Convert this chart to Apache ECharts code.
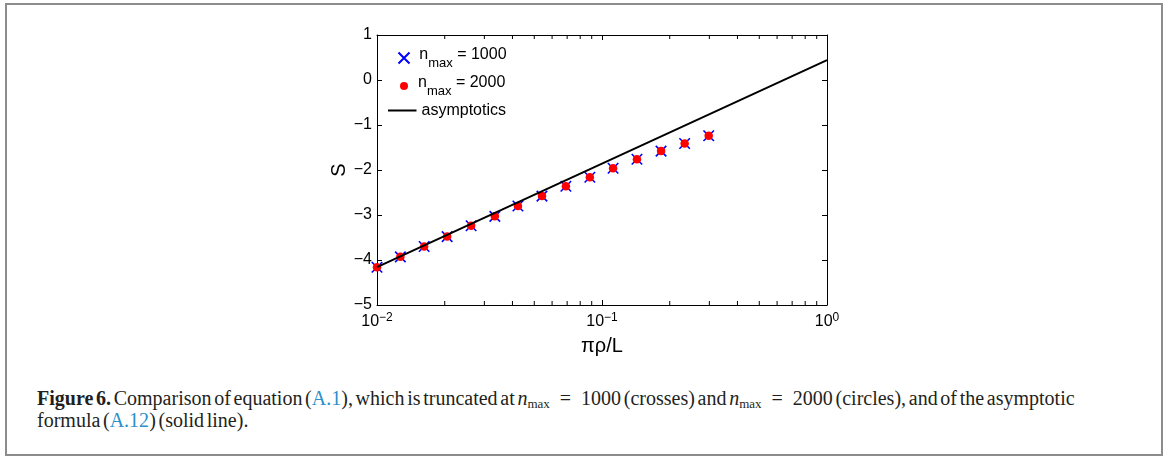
<!DOCTYPE html>
<html>
<head>
<meta charset="utf-8">
<title>Figure 6</title>
<script src="https://cdn.jsdelivr.net/npm/echarts@6.0.0/dist/echarts.min.js"></script>
<style>
  body { margin: 0; background: #fff; }
  #frame { position: absolute; left: 5px; top: 3px; width: 1154px; height: 449px; border: 2px solid #8c8c8c; }
  #chart { position: absolute; left: 0; top: 0; width: 1168px; height: 370px; }
  #caption {
    position: absolute; left: 37px; top: 388px; white-space: nowrap;
    font-family: "Liberation Serif", serif; font-size: 20px; line-height: 21.5px; color: #231f20;
    word-spacing: -2.3px;
  }
  #caption a { color: #2b8fc9; text-decoration: none; }
  #caption sub { font-size: 13px; vertical-align: -3px; line-height: 0; }
</style>
</head>
<body>
<div id="frame"></div>
<div id="chart"></div>
<div id="caption"><b>Figure 6.</b> Comparison of equation (<a>A.1</a>), which is truncated at <i>n</i><sub>max</sub>&ensp;=&ensp;1000 (crosses) and <i>n</i><sub>max</sub>&ensp;=&ensp;2000 (circles), and of the asymptotic<br>formula (<a>A.12</a>) (solid line).</div>
<script>
// values
const rhoX = [0.0100, 0.0127, 0.0162, 0.0205, 0.0262, 0.0334, 0.0423, 0.0541, 0.0691, 0.0883, 0.112, 0.143, 0.183, 0.233, 0.298];
const s1000 = [-4.16, -3.93, -3.70, -3.48, -3.24, -3.03, -2.80, -2.58, -2.36, -2.16, -1.96, -1.76, -1.58, -1.41, -1.24];
const s2000 = [-4.16, -3.93, -3.70, -3.48, -3.24, -3.03, -2.80, -2.58, -2.36, -2.16, -1.96, -1.76, -1.58, -1.41, -1.24];
const asymX = [0.01, 1];
const asymS = [-4.16, 0.44];
const xMinor = [0.02, 0.03, 0.04, 0.05, 0.06, 0.07, 0.08, 0.09, 0.2, 0.3, 0.4, 0.5, 0.6, 0.7, 0.8, 0.9];
const yMin = -5, yMax = 1;

const font = 'Liberation Sans';
const minus = s => String(s).replace('-', '\u2212');

const zip = (a, b) => a.map((v, i) => [v, b[i]]);

const legendRich = {
  n: { fontFamily: font, fontSize: 16, lineHeight: 16, padding: [0, 0, 7, 0], color: '#000' },
  sub: { fontFamily: font, fontSize: 13, lineHeight: 13, padding: [10, 0, 0, 0], color: '#000' }
};
const nmaxLabel = name => '{n|n}{sub|max}{n| = ' + name.split('=')[1].trim() + '}';

const axisCommon = {
  axisLine: { onZero: false, lineStyle: { color: '#000', width: 1 } },
  axisTick: { inside: true, length: 5, lineStyle: { color: '#000' } },
  splitLine: { show: false }
};

const myChart = echarts.init(document.getElementById('chart'));
const option = {
  animation: false,
  grid: { left: 377, top: 35, width: 450, height: 270 },
  legend: [
    {
      data: ['n_max = 1000'], left: 397.5, top: 46.5, padding: 0, orient: 'vertical',
      itemWidth: 20.5, itemHeight: 11, selectedMode: false,
      formatter: nmaxLabel, textStyle: { rich: legendRich }
    },
    {
      data: ['n_max = 2000'], left: 400, top: 74.5, padding: 0, orient: 'vertical',
      itemWidth: 18, itemHeight: 8, selectedMode: false,
      formatter: nmaxLabel, textStyle: { rich: legendRich }
    },
    {
      data: [{ name: 'asymptotics', icon: 'rect' }], left: 388, top: 102.5, padding: 0, orient: 'vertical',
      itemWidth: 28.5, itemHeight: 2, selectedMode: false,
      itemStyle: { color: '#000' },
      textStyle: { fontFamily: font, fontSize: 16, lineHeight: 16, color: '#000' }
    }
  ],
  xAxis: [
    Object.assign({
      type: 'log', logBase: 10, min: 0.01, max: 1, position: 'bottom',
      name: 'πρ/L', nameLocation: 'middle', nameGap: 28,
      nameTextStyle: { fontFamily: font, fontSize: 20, color: '#000' },
      axisLabel: {
        margin: 9,
        formatter: v => '{b|10}{s|' + minus(Math.round(Math.log10(v))) + '}',
        rich: {
          b: { fontFamily: font, fontSize: 16, lineHeight: 16, color: '#000' },
          s: { fontFamily: font, fontSize: 12, lineHeight: 12, padding: [0, 0, 8, 0], color: '#000' }
        }
      }
    }, axisCommon),
    Object.assign({
      type: 'log', logBase: 10, min: 0.01, max: 1, position: 'top',
      axisLabel: { show: false }
    }, axisCommon)
  ],
  yAxis: [
    Object.assign({
      type: 'value', min: yMin, max: yMax, interval: 1, position: 'left',
      name: 'S', nameLocation: 'middle', nameGap: 19,
      nameTextStyle: { fontFamily: font, fontSize: 20, color: '#000' },
      axisLabel: { margin: 5, fontFamily: font, fontSize: 16, color: '#000', formatter: v => minus(v) }
    }, axisCommon),
    Object.assign({
      type: 'value', min: yMin, max: yMax, interval: 1, position: 'right',
      axisLabel: { show: false }
    }, axisCommon)
  ],
  series: [
    {
      name: 'n_max = 1000', type: 'scatter',
      symbol: 'path://M0,0L10,10M10,0L0,10', symbolSize: 10.5,
      itemStyle: { color: '#0000ff', borderColor: '#0000ff', borderWidth: 1.6, opacity: 1 },
      data: zip(rhoX, s1000)
    },
    {
      name: 'n_max = 2000', type: 'scatter',
      symbol: 'circle', symbolSize: 8.5,
      itemStyle: { color: '#ff0000', opacity: 1 },
      data: zip(rhoX, s2000)
    },
    {
      name: 'asymptotics', type: 'line', symbol: 'none',
      lineStyle: { color: '#000', width: 2 }, itemStyle: { color: '#000' },
      data: zip(asymX, asymS)
    },
    {
      // minor log ticks, top and bottom
      type: 'custom', silent: true,
      encode: { x: 0 },
      data: xMinor.map(v => [v]),
      renderItem: function (params, api) {
        const b = api.coord([api.value(0), yMin]);
        const t = api.coord([api.value(0), yMax]);
        const st = { stroke: '#000', lineWidth: 1 };
        return {
          type: 'group',
          children: [
            { type: 'line', shape: { x1: b[0], y1: b[1], x2: b[0], y2: b[1] - 4 }, style: st },
            { type: 'line', shape: { x1: t[0], y1: t[1], x2: t[0], y2: t[1] + 4 }, style: st }
          ]
        };
      }
    }
  ]
};
myChart.setOption(option);
</script>
</body>
</html>
